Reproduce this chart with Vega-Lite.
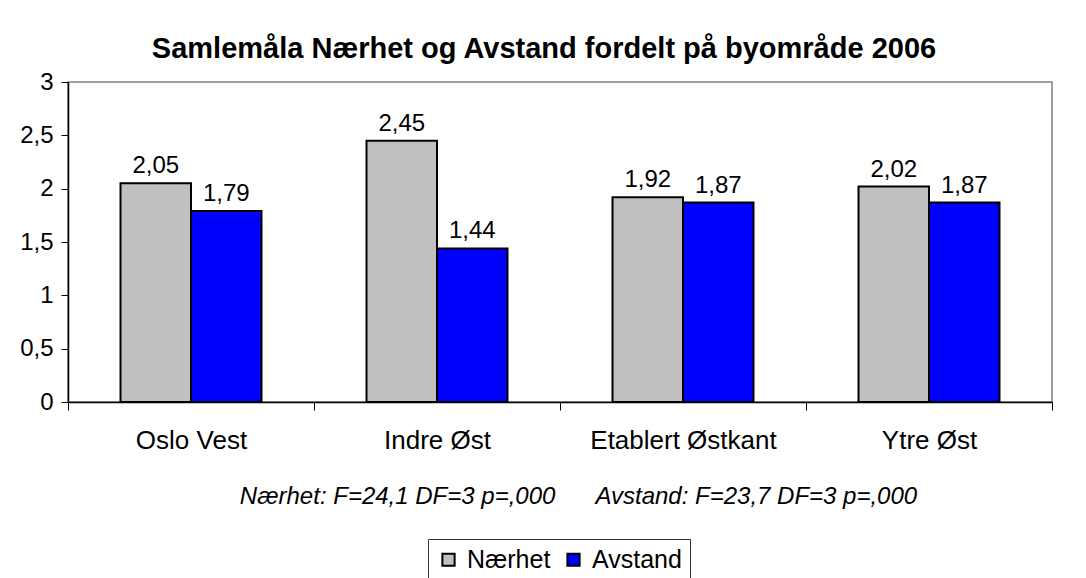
{
  "$schema": "https://vega.github.io/schema/vega-lite/v6.json",
  "autosize": {"type": "none"},
  "width": 984,
  "height": 320,
  "padding": {"left": 68, "top": 82, "right": 34, "bottom": 176},
  "background": "white",
  "config": {
    "locale": {"number": {"decimal": ",", "thousands": " ", "grouping": [3], "currency": ["", " kr"]}},
    "font": "Liberation Sans",
    "view": {"stroke": "#808080", "strokeWidth": 1.5}
  },
  "title": {
    "text": "Samlemåla Nærhet og Avstand fordelt på byområde 2006",
    "fontSize": 29,
    "fontWeight": "bold",
    "font": "Liberation Sans",
    "color": "black",
    "baseline": "alphabetic",
    "offset": -17,
    "dx": -16,
    "anchor": "middle"
  },
  "data": {
    "values": [
      {"omrade": "Oslo Vest", "serie": "Nærhet", "verdi": 2.05},
      {"omrade": "Oslo Vest", "serie": "Avstand", "verdi": 1.79},
      {"omrade": "Indre Øst", "serie": "Nærhet", "verdi": 2.45},
      {"omrade": "Indre Øst", "serie": "Avstand", "verdi": 1.44},
      {"omrade": "Etablert Østkant", "serie": "Nærhet", "verdi": 1.92},
      {"omrade": "Etablert Østkant", "serie": "Avstand", "verdi": 1.87},
      {"omrade": "Ytre Øst", "serie": "Nærhet", "verdi": 2.02},
      {"omrade": "Ytre Øst", "serie": "Avstand", "verdi": 1.87}
    ]
  },
  "encoding": {
    "x": {
      "field": "omrade",
      "type": "nominal",
      "sort": ["Oslo Vest", "Indre Øst", "Etablert Østkant", "Ytre Øst"],
      "scale": {"paddingInner": 0, "paddingOuter": 0},
      "axis": {
        "title": "Nærhet: F=24,1 DF=3 p=,000\u00a0\u00a0\u00a0\u00a0\u00a0\u00a0Avstand: F=23,7 DF=3 p=,000",
        "titleFont": "Liberation Sans",
        "titleFontStyle": "italic",
        "titleFontWeight": "normal",
        "titleFontSize": 24,
        "titleColor": "black",
        "titleX": 510,
        "titleY": 101,
        "titleBaseline": "alphabetic",
        "labelAngle": 0,
        "labelFontSize": 26,
        "labelColor": "black",
        "labelBaseline": "alphabetic",
        "labelPadding": 38,
        "labelLimit": 400,
        "tickBand": "extent",
        "tickSize": 8,
        "tickColor": "black",
        "tickWidth": 1,
        "domainColor": "black",
        "domainWidth": 1.5,
        "grid": false
      }
    },
    "xOffset": {
      "field": "serie",
      "type": "nominal",
      "sort": ["Nærhet", "Avstand"],
      "scale": {"paddingInner": 0, "paddingOuter": 0.745}
    },
    "y": {
      "field": "verdi",
      "type": "quantitative",
      "scale": {"domain": [0, 3], "nice": false},
      "axis": {
        "title": null,
        "values": [0, 0.5, 1, 1.5, 2, 2.5, 3],
        "format": ".1~f",
        "labelFontSize": 24,
        "labelColor": "black",
        "labelPadding": 8,
        "tickSize": 7,
        "tickColor": "black",
        "tickWidth": 1,
        "domainColor": "black",
        "domainWidth": 1.5,
        "grid": false
      }
    }
  },
  "layer": [
    {
      "mark": {"type": "bar", "stroke": "black", "strokeWidth": 2},
      "encoding": {
        "color": {
          "field": "serie",
          "type": "nominal",
          "sort": ["Nærhet", "Avstand"],
          "scale": {"domain": ["Nærhet", "Avstand"], "range": ["#C0C0C0", "#0000FF"]},
          "legend": {
            "title": null,
            "orient": "none",
            "legendX": 360,
            "legendY": 457,
            "direction": "horizontal",
            "symbolType": "square",
            "symbolSize": 150,
            "symbolStrokeColor": "black",
            "symbolStrokeWidth": 2,
            "labelFontSize": 25,
            "labelColor": "black",
            "labelOffset": 6,
            "columnPadding": 10,
            "padding": 8,
            "strokeColor": "#333333",
            "fillColor": "white"
          }
        }
      }
    },
    {
      "mark": {"type": "text", "baseline": "alphabetic", "dy": -10, "fontSize": 24, "color": "black"},
      "encoding": {
        "text": {"field": "verdi", "type": "quantitative", "format": ".2f"}
      }
    }
  ]
}
